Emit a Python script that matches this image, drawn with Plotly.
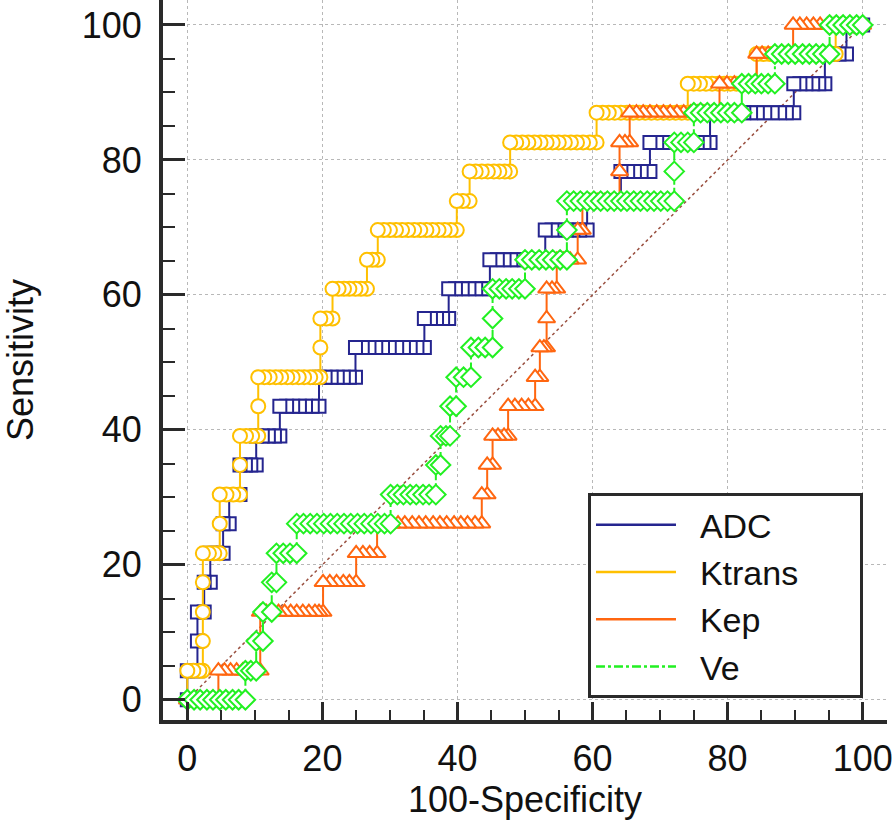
import plotly.graph_objects as go

# Sensitivity levels (23 positive cases)
SENS_LEVELS = [0, 4.3, 8.7, 13.0, 17.4, 21.7, 26.1, 30.4, 34.8, 39.1, 43.5, 47.8,
               52.2, 56.5, 60.9, 65.2, 69.6, 73.9, 78.3, 82.6, 87.0, 91.3, 95.7, 100]

# 100-Specificity values of the ROC points, one list per sensitivity level
ADC_RUNS = [
    [0], [0, 0.8, 1.5], [1.5], [1.5, 2.5], [2.5, 3.4], [3.4, 4.4, 5.3], [5.3, 6.2],
    [6.2, 7.0, 7.8], [7.8, 8.6, 9.4, 10.2], [10.2, 11.1, 12.0, 12.9, 13.7],
    [13.7, 14.7, 15.6, 16.6, 17.5, 18.5, 19.5],
    [19.5, 20.4, 21.3, 22.2, 23.1, 24.0, 24.9],
    [24.9, 25.9, 26.9, 27.9, 28.9, 29.9, 31.0, 32.0, 33.0, 34.0, 35.1],
    [35.1, 36.0, 36.9, 37.8, 38.7],
    [38.7, 39.7, 40.7, 41.7, 42.7, 43.7, 44.8],
    [44.8, 45.9, 46.9, 47.9, 48.9, 49.9, 50.9, 52.0, 53.0],
    [53.0, 54.0, 55.0, 56.1, 57.1, 58.1, 59.2],
    [59.2, 60.2, 61.2, 62.2, 63.2, 64.2],
    [64.2, 65.2, 66.2, 67.2, 68.5],
    [68.5, 69.5, 70.5, 71.5, 72.5, 73.5, 74.5, 75.5, 76.5, 77.4],
    [77.4, 78.4, 79.4, 80.4, 81.4, 82.4, 83.4, 84.4, 85.5, 86.6, 87.7, 88.7, 89.8],
    [89.8, 90.7, 91.6, 92.6, 93.5, 94.4],
    [94.4, 95.5, 96.5, 97.6],
    [97.6, 98.8, 100],
]

KTRANS_RUNS = [
    [0], [0, 0.9, 1.8, 2.3], [2.3], [2.3], [2.3], [2.3, 3.2, 4.0, 4.8], [4.8],
    [4.8, 5.8, 6.8, 7.8], [7.8], [7.8, 8.7, 9.6, 10.5], [10.5],
    [10.5, 11.4, 12.2, 13.1, 13.9, 14.8, 15.6, 16.5, 17.3, 18.2, 19.0, 19.7],
    [19.7], [19.7, 20.6, 21.5],
    [21.5, 22.4, 23.2, 24.0, 24.9, 25.7, 26.6],
    [26.6, 27.4, 28.2],
    [28.2, 29.1, 30.0, 30.9, 31.8, 32.7, 33.6, 34.5, 35.4, 36.3, 37.2, 38.1, 39.0, 39.9],
    [39.9, 40.8, 41.8],
    [41.8, 42.7, 43.6, 44.5, 45.4, 46.2, 47.0, 47.8],
    [47.8, 48.7, 49.6, 50.5, 51.4, 52.3, 53.2, 54.1, 55.0, 55.9, 56.8, 57.7, 58.6, 59.6, 60.6],
    [60.6, 61.5, 62.4, 63.3, 64.2, 65.1, 66.0, 66.9, 67.8, 68.7, 69.6, 70.5, 71.4, 72.3, 73.2, 74.1],
    [74.1, 75.0, 75.9, 76.8, 77.7, 78.6, 79.5, 80.4, 81.3, 82.3, 83.3, 84.3],
    [84.3, 85.3, 86.3, 87.3, 88.3, 89.3, 90.2, 91.2, 92.2, 93.2, 94.1, 95.1, 96.0],
    [96.0, 97.0, 98.0, 99.0, 100],
]

KEP_RUNS = [
    [0, 0.9, 1.8, 2.7, 3.6, 4.6],
    [4.6, 5.5, 6.4, 7.3, 8.2, 9.1, 10.0, 10.8],
    [],
    [10.8, 11.7, 12.6, 13.5, 14.4, 15.3, 16.2, 17.1, 18.0, 18.9, 19.5, 20.1],
    [20.1, 21.1, 22.1, 23.1, 24.0, 25.0],
    [25.0, 26.0, 27.0, 28.1],
    [28.1, 29.1, 30.2, 31.2, 32.2, 33.3, 34.3, 35.3, 36.4, 37.4, 38.4, 39.5, 40.5, 41.5, 42.6, 43.6],
    [43.6, 44.4],
    [44.4, 45.2],
    [45.2, 46.0, 46.9, 47.5],
    [47.5, 48.5, 49.5, 50.5, 51.5],
    [51.5, 52.2],
    [52.2, 52.8, 53.2],
    [53.2],
    [53.2, 54.0, 54.7],
    [54.7, 55.7, 56.7, 57.8],
    [57.8, 58.5],
    [58.5, 59.6, 60.7, 61.8, 62.9, 64.0],
    [64.0],
    [64.0, 64.8, 65.5],
    [65.5, 66.5, 67.5, 68.5, 69.5, 70.5, 71.5, 72.5, 73.5, 74.5, 75.5, 76.5, 77.7, 78.8],
    [78.8, 79.9, 81.0, 82.1, 83.2, 84.3],
    [84.3, 85.1, 86.0, 86.9, 87.8, 88.7, 89.7],
    [89.7, 90.7, 91.7, 92.7, 93.7, 94.8, 95.8, 96.8, 97.9, 98.9, 100],
]

VE_RUNS = [
    [0, 1.0, 1.9, 2.9, 3.8, 4.8, 5.7, 6.7, 7.6, 8.6],
    [8.6, 9.4, 10.2],
    [10.2, 11.2],
    [11.2, 12.5],
    [12.5, 13.2],
    [13.2, 14.2, 15.2, 16.2],
    [16.2, 17.2, 18.2, 19.2, 20.2, 21.2, 22.2, 23.2, 24.2, 25.2, 26.2, 27.2, 28.2, 29.2, 30.1],
    [30.1, 31.1, 32.0, 33.0, 33.9, 34.9, 35.8, 36.8],
    [36.8, 37.5],
    [37.5, 38.3, 38.9],
    [38.9, 39.8],
    [39.8, 40.9, 42.0],
    [42.0, 43.1, 44.1, 45.2],
    [45.2],
    [45.2, 46.2, 47.2, 48.1, 49.1, 50.0],
    [50.0, 51.0, 52.1, 53.1, 54.1, 55.2, 56.2],
    [56.2],
    [56.2, 57.2, 58.2, 59.2, 60.2, 61.2, 62.2, 63.2, 64.2, 65.1, 66.1, 67.1, 68.1, 69.1, 70.1, 71.1, 72.1],
    [72.1],
    [72.1, 73.1, 74.1, 75.0],
    [75.0, 76.0, 77.0, 78.0, 79.0, 80.0, 81.0, 82.1],
    [82.1, 83.1, 84.1, 85.0, 86.0, 87.0],
    [87.0, 88.0, 89.0, 90.0, 91.1, 92.1, 93.1, 94.1, 95.1],
    [95.1, 96.1, 97.1, 98.1, 99.1, 100],
]

NAMES = ["ADC", "Ktrans", "Kep", "Ve"]
COLORS = ["#25258F", "#FFC000", "#FF6610", "#22F022"]
SYMBOLS = ["square", "circle", "triangle-up", "diamond"]
SIZES = [13, 14, 15, 15]
DASHES = ["solid", "solid", "solid", "dashdot"]
REVERSE = [True, True, True, False]
DIAG = [0, 100]


def build(runs):
    xs, ys = [], []
    for s, run in zip(SENS_LEVELS, runs):
        for x in run:
            xs.append(x)
            ys.append(s)
    return xs, ys


fig = go.Figure()

fig.add_trace(go.Scatter(x=DIAG, y=DIAG, mode="lines", showlegend=False,
                         line=dict(color="#9a5040", width=1.5, dash="dot"), hoverinfo="skip"))

for runs, name, c, sym, sz, dash, rev in zip(
        [ADC_RUNS, KTRANS_RUNS, KEP_RUNS, VE_RUNS], NAMES, COLORS, SYMBOLS, SIZES, DASHES, REVERSE):
    xs, ys = build(runs)
    if rev:
        xs, ys = xs[::-1], ys[::-1]
    fig.add_trace(go.Scatter(
        x=xs, y=ys, mode="lines+markers", name=name, showlegend=False,
        line=dict(color=c, width=2, dash=dash),
        marker=dict(symbol=sym, size=sz, color="white", line=dict(color=c, width=2)),
    ))

PAD_L = "\u00a0\u00a0"
PAD_R = "\u00a0" * 6
for name, c, dash in zip(NAMES, COLORS, DASHES):
    fig.add_trace(go.Scatter(x=[None], y=[None], mode="lines", name=PAD_L + name + PAD_R,
                             line=dict(color=c, width=2.5, dash=dash)))

FONT = "Arial, Liberation Sans, sans-serif"
axis_common = dict(
    showline=True, linecolor="#2a2a2a", linewidth=4,
    ticks="inside", tickwidth=3, tickcolor="#2a2a2a",
    tick0=0, dtick=20, automargin=False,
    showgrid=True, gridcolor="#b8b8b8", griddash="dot", gridwidth=1,
    zeroline=False,
    tickfont=dict(family=FONT, size=36, color="#111"),
)

fig.update_layout(
    template="none",
    width=896, height=838,
    margin=dict(l=163, r=9, t=0, b=118),
    paper_bgcolor="white", plot_bgcolor="white",
    font=dict(family=FONT, size=36, color="#111"),
    xaxis=dict(range=[-3.6, 103.6], ticklen=18,
               minor=dict(dtick=5, ticks="inside", ticklen=10, tickwidth=2, tickcolor="#2a2a2a"),
               title=dict(text="100-Specificity", font=dict(family=FONT, size=36), standoff=10),
               ticklabelstandoff=4,
               **axis_common),
    yaxis=dict(range=[-3.0, 103.7], ticklen=22,
               minor=dict(dtick=5, ticks="inside", ticklen=12, tickwidth=2, tickcolor="#2a2a2a"),
               title=dict(text="Sensitivity", font=dict(family=FONT, size=36), standoff=41),
               ticklabelstandoff=10,
               **axis_common),
    legend=dict(x=0.587, y=0.315, xanchor="left", yanchor="top",
                bgcolor="white", bordercolor="#2a2a2a", borderwidth=3,
                font=dict(family=FONT, size=34, color="#111"),
                itemwidth=80, tracegroupgap=0),
    showlegend=True,
)

fig.write_html("out.html", post_script="document.body.style.margin='0px';",
               config={"displayModeBar": False})
